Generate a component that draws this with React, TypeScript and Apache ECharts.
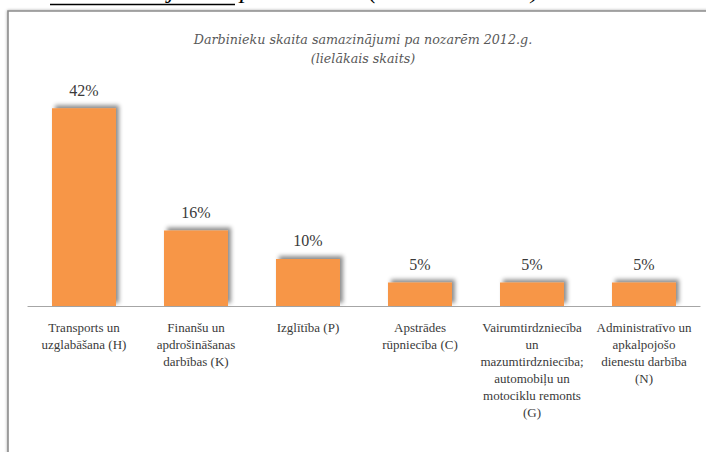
import React, { useEffect, useRef } from "react";
import * as echarts from "echarts";

const categories: string[] = [
  "Transports un\nuzglabāšana (H)",
  "Finanšu un\napdrošināšanas\ndarbības (K)",
  "Izglītība (P)",
  "Apstrādes\nrūpniecība (C)",
  "Vairumtirdzniecība\nun\nmazumtirdzniecība;\nautomobiļu un\nmotociklu remonts\n(G)",
  "Administratīvo un\napkalpojošo\ndienestu darbība\n(N)",
];
const shares: number[] = [42, 16, 10, 5, 5, 5];
const titleLines: string[] = [
  "Darbinieku skaita samazinājumi pa nozarēm 2012.g.",
  "(lielākais skaits)",
];
const pageHeadingParts: string[] = ["ita", "samazinājumi", "pa nozarēm (lielākais skaits)"];

const SERIF = "'Liberation Serif', 'Times New Roman', serif";
const TITLE_SERIF = "'DejaVu Serif', serif";

export default function App() {
  const ref = useRef<HTMLDivElement>(null);
  useEffect(() => {
    if (!ref.current) return;
    const chart = echarts.init(ref.current, undefined, { renderer: "svg" });
    const headStyle = {
      fontFamily: SERIF,
      fontStyle: "italic",
      fontSize: 26,
      fill: "#000",
      verticalAlign: "middle",
    };
    chart.setOption({
      animation: false,
      backgroundColor: "#ffffff",
      title: {
        text: titleLines.join("\n"),
        left: 363,
        top: 30,
        textAlign: "center",
        padding: 0,
        textStyle: {
          fontFamily: TITLE_SERIF,
          fontStyle: "italic",
          fontWeight: "normal",
          fontSize: 12.7,
          lineHeight: 19,
          color: "#595959",
        },
      },
      graphic: [
        {
          type: "rect",
          z: -10,
          shape: { x: 8, y: 11, width: 740, height: 470 },
          style: {
            fill: "#ffffff",
            stroke: "#8c8c8c",
            lineWidth: 1.6,
            shadowBlur: 3,
            shadowColor: "rgba(0,0,0,0.35)",
          },
        },
        { type: "text", x: 45, y: -11, style: { ...headStyle, text: pageHeadingParts[0], align: "right" } },
        { type: "text", x: 142, y: -11, style: { ...headStyle, text: pageHeadingParts[1], align: "center" } },
        { type: "text", x: 240, y: -11, style: { ...headStyle, text: pageHeadingParts[2], align: "left" } },
        {
          type: "line",
          shape: { x1: 50, y1: 4.5, x2: 235, y2: 4.5 },
          style: { stroke: "#000", lineWidth: 1.5 },
        },
      ],
      grid: { left: 28, right: 6, top: 94, bottom: 146 },
      xAxis: {
        type: "category",
        data: categories,
        axisLine: { show: true, lineStyle: { color: "#a6a6a6", width: 1.2 } },
        axisTick: { show: false },
        axisLabel: {
          interval: 0,
          margin: 13,
          fontFamily: SERIF,
          fontSize: 13,
          lineHeight: 17,
          color: "#3a3a3a",
        },
      },
      yAxis: {
        type: "value",
        min: 0,
        max: 45,
        show: false,
        splitLine: { show: false },
      },
      series: [
        {
          type: "bar",
          data: shares,
          barWidth: 64,
          itemStyle: {
            color: "#f79646",
            shadowColor: "rgba(0,0,0,0.45)",
            shadowBlur: 4,
            shadowOffsetX: 3,
            shadowOffsetY: -3,
          },
          label: {
            show: true,
            position: "top",
            distance: 10,
            formatter: "{c}%",
            fontFamily: SERIF,
            fontSize: 16,
            color: "#3a3a3a",
          },
        },
      ],
    });
    return () => chart.dispose();
  }, []);
  return (
    <div
      ref={ref}
      style={{ position: "absolute", left: 0, top: 0, width: 706, height: 452 }}
    />
  );
}
